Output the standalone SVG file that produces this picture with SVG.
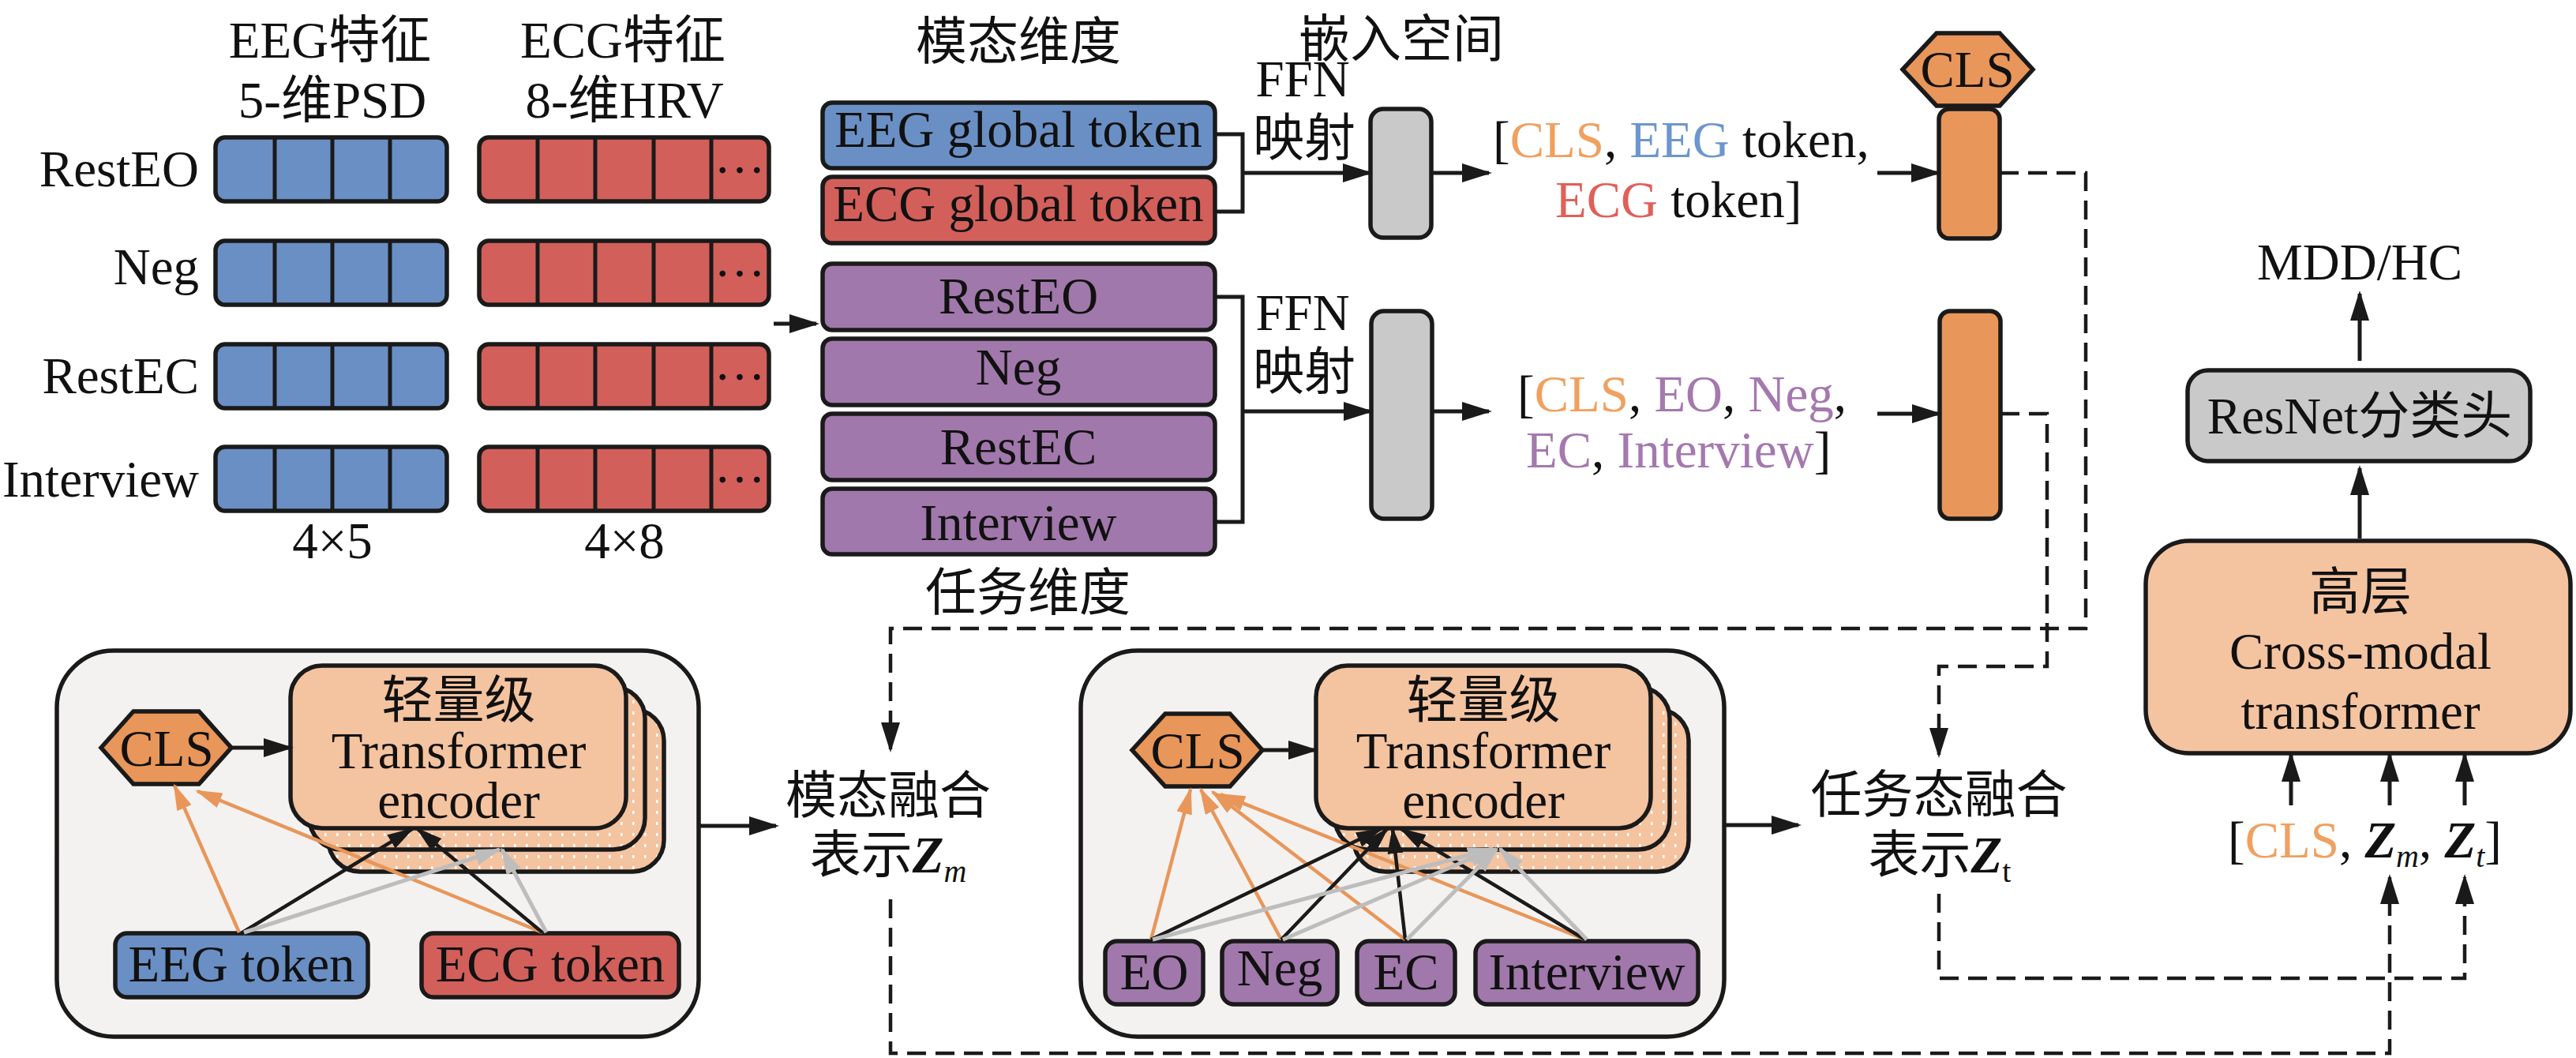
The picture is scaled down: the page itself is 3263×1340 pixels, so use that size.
<svg xmlns="http://www.w3.org/2000/svg" width="3263" height="1340" viewBox="0 0 3263 1340">
<defs>
<style>
text{font-family:"Liberation Serif","Noto Sans CJK SC",serif;font-size:65px;fill:#111}
.cjk{font-family:"Noto Sans CJK SC","Liberation Serif",sans-serif}
.c{text-anchor:middle}
.r{text-anchor:end}
.bx{stroke:#1a1a1a;stroke-width:5.5}
.blue{fill:#6a8fc4}
.red{fill:#d35f5a}
.pur{fill:#a178ab}
.org{fill:#e8965a}
.peach{fill:#f4c3a0}
.gray{fill:#c9c9c9}
.bg{fill:#f3f2f0}
.ln{fill:none;stroke:#1a1a1a;stroke-width:5}
.dv{fill:none;stroke:#1a1a1a;stroke-width:5}
.ar{fill:none;stroke:#1a1a1a;stroke-width:5;marker-end:url(#a)}
.da{fill:none;stroke:#1a1a1a;stroke-width:4.5;stroke-dasharray:24 12;marker-end:url(#a)}
.ak{fill:none;stroke:#1a1a1a;stroke-width:4.5;marker-end:url(#ak)}
.ao{fill:none;stroke:#e8965a;stroke-width:4.5;marker-end:url(#ao)}
.ag{fill:none;stroke:#bdbdbd;stroke-width:5;marker-end:url(#ag)}
.tO{fill:#f0a05f}
.tB{fill:#6c96cd}
.tR{fill:#e0605a}
.tP{fill:#a578af}
.bi{font-weight:bold;font-style:italic}
</style>
<marker id="a" viewBox="0 0 38 24" refX="34" refY="12" markerWidth="38" markerHeight="24" markerUnits="userSpaceOnUse" orient="auto"><path d="M0,0 L38,12 L0,24 z" fill="#1a1a1a"/></marker>
<marker id="ak" viewBox="0 0 34 20" refX="31" refY="10" markerWidth="34" markerHeight="20" markerUnits="userSpaceOnUse" orient="auto"><path d="M0,0 L34,10 L0,20 z" fill="#1a1a1a"/></marker>
<marker id="ao" viewBox="0 0 34 20" refX="31" refY="10" markerWidth="34" markerHeight="20" markerUnits="userSpaceOnUse" orient="auto"><path d="M0,0 L34,10 L0,20 z" fill="#e8965a"/></marker>
<marker id="ag" viewBox="0 0 34 20" refX="31" refY="10" markerWidth="34" markerHeight="20" markerUnits="userSpaceOnUse" orient="auto"><path d="M0,0 L34,10 L0,20 z" fill="#bdbdbd"/></marker>
<pattern id="dots" width="15" height="14" patternUnits="userSpaceOnUse"><rect width="15" height="14" fill="#f4c3a0"/><rect x="6" y="5" width="2.5" height="4" fill="#ffffff"/></pattern>
</defs>
<rect width="3263" height="1340" fill="#ffffff"/>

<!-- headers -->
<g id="hdr-eeg"><text class="c" x="418" y="73">EEG特征</text><text class="c" x="421" y="149">5-维PSD</text></g>
<g id="hdr-ecg"><text class="c" x="789" y="73">ECG特征</text><text class="c" x="791" y="149">8-维HRV</text></g>
<g id="row-labels">
<text class="r" x="252" y="236">RestEO</text>
<text class="r" x="252" y="360">Neg</text>
<text class="r" x="252" y="498">RestEC</text>
<text class="r" x="252" y="629">Interview</text>
</g>

<!-- EEG feature bars -->
<g id="eeg-bars">
<rect class="bx blue" x="273" y="174" width="293" height="81" rx="12"/>
<rect class="bx blue" x="273" y="305" width="293" height="81" rx="12"/>
<rect class="bx blue" x="273" y="436" width="293" height="81" rx="12"/>
<rect class="bx blue" x="273" y="566" width="293" height="81" rx="12"/>
<path class="dv" d="M348,174V255M421,174V255M494,174V255M348,305V386M421,305V386M494,305V386M348,436V517M421,436V517M494,436V517M348,566V647M421,566V647M494,566V647"/>
<text class="c" x="421" y="707">4×5</text>
</g>
<!-- ECG feature bars -->
<g id="ecg-bars">
<rect class="bx red" x="607" y="174" width="367" height="81" rx="12"/>
<rect class="bx red" x="607" y="305" width="367" height="81" rx="12"/>
<rect class="bx red" x="607" y="436" width="367" height="81" rx="12"/>
<rect class="bx red" x="607" y="566" width="367" height="81" rx="12"/>
<path class="dv" d="M681,174V255M754,174V255M828,174V255M901,174V255M681,305V386M754,305V386M828,305V386M901,305V386M681,436V517M754,436V517M828,436V517M901,436V517M681,566V647M754,566V647M828,566V647M901,566V647"/>
<text class="c" x="937" y="219">…</text>
<text class="c" x="937" y="350">…</text>
<text class="c" x="937" y="481">…</text>
<text class="c" x="937" y="611">…</text>
<text class="c" x="791" y="707">4×8</text>
</g>

<!-- modality tokens -->
<g id="modal-dim">
<text class="c cjk" x="1290" y="75">模态维度</text>
<rect class="bx blue" x="1042" y="130" width="497" height="83" rx="12"/>
<text class="c" x="1290" y="186">EEG global token</text>
<rect class="bx red" x="1042" y="224" width="497" height="84" rx="12"/>
<text class="c" x="1290" y="280">ECG global token</text>
</g>
<g id="task-dim">
<rect class="bx pur" x="1042" y="334" width="497" height="84" rx="12"/>
<text class="c" x="1290" y="397">RestEO</text>
<rect class="bx pur" x="1042" y="429" width="497" height="84" rx="12"/>
<text class="c" x="1290" y="487">Neg</text>
<rect class="bx pur" x="1042" y="524" width="497" height="84" rx="12"/>
<text class="c" x="1290" y="588">RestEC</text>
<rect class="bx pur" x="1042" y="619" width="497" height="83" rx="12"/>
<text class="c" x="1290" y="684">Interview</text>
<text class="c cjk" x="1302" y="773">任务维度</text>
</g>

<g id="embed-label"><text class="c cjk" x="1775" y="72" font-size="62">嵌入空间</text></g>
<g id="ffn1"><text class="c" x="1650" y="122">FFN</text><text class="c cjk" x="1652" y="197">映射</text></g>
<g id="ffn2"><text class="c" x="1650" y="418">FFN</text><text class="c cjk" x="1652" y="493">映射</text></g>
<g id="proj1"><rect class="bx gray" x="1736" y="138" width="77" height="163" rx="16"/></g>
<g id="proj2"><rect class="bx gray" x="1737" y="394" width="77" height="263" rx="16"/></g>

<g id="seq1">
<text x="1891" y="199">[<tspan class="tO">CLS</tspan>, <tspan class="tB">EEG</tspan> token,</text>
<text x="1970" y="275"><tspan class="tR">ECG</tspan> token]</text>
</g>
<g id="seq2">
<text x="1922" y="521">[<tspan class="tO">CLS</tspan>, <tspan class="tP">EO</tspan>, <tspan class="tP">Neg</tspan>,</text>
<text x="1933" y="592"><tspan class="tP">EC</tspan>, <tspan class="tP">Interview</tspan>]</text>
</g>

<g id="cls-top">
<polygon class="bx org" points="2410,88 2453,42 2533,42 2575,88 2533,134 2453,134"/>
<text class="c" x="2492" y="110">CLS</text>
</g>
<g id="bar1"><rect class="bx org" x="2456" y="138" width="77" height="164" rx="13"/></g>
<g id="bar2"><rect class="bx org" x="2457" y="394" width="77" height="263" rx="13"/></g>

<g id="output"><text class="c" x="2989" y="354">MDD/HC</text></g>
<g id="resnet">
<rect class="bx gray" x="2771" y="469" width="434" height="115" rx="26"/>
<text class="c" x="2989" y="549">ResNet分类头</text>
</g>
<g id="cross-modal">
<rect class="bx peach" x="2718" y="685" width="538" height="269" rx="55"/>
<text class="c cjk" x="2990" y="772">高层</text>
<text class="c" x="2990" y="847">Cross-modal</text>
<text class="c" x="2990" y="923">transformer</text>
</g>
<g id="final-seq">
<text x="2822" y="1086">[<tspan class="tO">CLS</tspan>, <tspan class="bi">Z</tspan><tspan font-style="italic" font-size="40" dy="12">m</tspan><tspan dy="-12">, </tspan><tspan class="bi">Z</tspan><tspan font-style="italic" font-size="40" dy="12">t</tspan><tspan dy="-12">]</tspan></text>
</g>

<!-- modality fusion block -->
<g id="modal-fusion">
<rect class="bx bg" x="72" y="824" width="813" height="489" rx="72"/>
<rect class="bx" fill="url(#dots)" x="416" y="898" width="425" height="206" rx="40"/>
<rect class="bx" fill="url(#dots)" x="392" y="870" width="425" height="206" rx="40"/>
<rect class="bx peach" x="368" y="843" width="425" height="206" rx="40"/>
<text class="c cjk" x="581" y="909">轻量级</text>
<text class="c" x="581" y="973">Transformer</text>
<text class="c" x="581" y="1036">encoder</text>
<polygon class="bx org" points="128,947 169,901 252,901 293,947 252,993 169,993"/>
<text class="c" x="211" y="970">CLS</text>
<rect class="bx blue" x="146" y="1182" width="320" height="81" rx="15"/>
<text class="c" x="306" y="1243">EEG token</text>
<rect class="bx red" x="534" y="1182" width="326" height="81" rx="15"/>
<text class="c" x="697" y="1243">ECG token</text>
</g>
<g id="modal-fusion-label">
<text class="c cjk" x="1125" y="1030">模态融合</text>
<text class="c" x="1125" y="1105"><tspan class="cjk">表示</tspan><tspan class="bi">Z</tspan><tspan font-style="italic" font-size="40" dy="12">m</tspan></text>
</g>

<!-- task fusion block -->
<g id="task-fusion">
<rect class="bx bg" x="1369" y="824" width="815" height="489" rx="72"/>
<rect class="bx" fill="url(#dots)" x="1715" y="898" width="424" height="206" rx="40"/>
<rect class="bx" fill="url(#dots)" x="1691" y="870" width="424" height="206" rx="40"/>
<rect class="bx peach" x="1667" y="843" width="424" height="206" rx="40"/>
<text class="c cjk" x="1879" y="909">轻量级</text>
<text class="c" x="1879" y="973">Transformer</text>
<text class="c" x="1879" y="1036">encoder</text>
<polygon class="bx org" points="1434,950 1476,904 1558,904 1599,950 1558,996 1476,996"/>
<text class="c" x="1517" y="973">CLS</text>
<rect class="bx pur" x="1400" y="1192" width="124" height="80" rx="15"/>
<text class="c" x="1462" y="1253">EO</text>
<rect class="bx pur" x="1548" y="1192" width="146" height="80" rx="15"/>
<text class="c" x="1621" y="1248">Neg</text>
<rect class="bx pur" x="1719" y="1192" width="124" height="80" rx="15"/>
<text class="c" x="1781" y="1253">EC</text>
<rect class="bx pur" x="1869" y="1192" width="282" height="80" rx="15"/>
<text class="c" x="2010" y="1253">Interview</text>
</g>
<g id="task-fusion-label">
<text class="c cjk" x="2456" y="1029">任务态融合</text>
<text class="c" x="2457" y="1105"><tspan class="cjk">表示</tspan><tspan class="bi">Z</tspan><tspan font-size="40" dy="12">t</tspan></text>
</g>

<!-- connectors -->
<g id="connectors">
<path class="ar" d="M980,410H1034"/>
<path class="ln" d="M1539,170H1574V268H1539"/>
<path class="ar" d="M1574,219H1735"/>
<path class="ar" d="M1813,219H1886"/>
<path class="ar" d="M2378,219H2455"/>
<path class="ln" d="M1539,376H1574V661H1539"/>
<path class="ar" d="M1574,521H1736"/>
<path class="ar" d="M1814,521H1886"/>
<path class="ar" d="M2378,524H2456"/>
<path class="ar" d="M2989,682V593"/>
<path class="ar" d="M2989,457V372"/>
<path class="ar" d="M2902,1020V956"/>
<path class="ar" d="M3027,1020V956"/>
<path class="ar" d="M3122,1020V956"/>
<path class="ar" d="M885,1046H983"/>
<path class="ar" d="M2184,1045H2278"/>
<path class="ar" d="M293,947H368"/>
<path class="ar" d="M1599,950H1666"/>
<path class="da" d="M2533,219H2642V796H1128V949"/>
<path class="da" d="M2534,524H2593V844H2456V956"/>
<path class="da" d="M1128,1139V1334H3027V1111"/>
<path class="da" d="M2456,1132V1239H3122V1111"/>
<path class="ao" d="M303,1181L221,995"/>
<path class="ao" d="M687,1181L250,1002"/>
<path class="ak" d="M307,1181L522,1050"/>
<path class="ak" d="M687,1181L529,1050"/>
<path class="ag" d="M309,1181L633,1076"/>
<path class="ag" d="M692,1181L636,1076"/>
<path class="ao" d="M1458,1190L1508,1000"/>
<path class="ao" d="M1623,1190L1521,1000"/>
<path class="ao" d="M1780,1190L1536,1003"/>
<path class="ao" d="M2008,1190L1546,1006"/>
<path class="ak" d="M1458,1190L1749,1050"/>
<path class="ak" d="M1623,1190L1757,1050"/>
<path class="ak" d="M1780,1190L1764,1050"/>
<path class="ak" d="M2008,1190L1775,1050"/>
<path class="ag" d="M1460,1190L1890,1075"/>
<path class="ag" d="M1625,1190L1892,1075"/>
<path class="ag" d="M1782,1190L1896,1075"/>
<path class="ag" d="M2010,1190L1900,1075"/>
</g>
</svg>
